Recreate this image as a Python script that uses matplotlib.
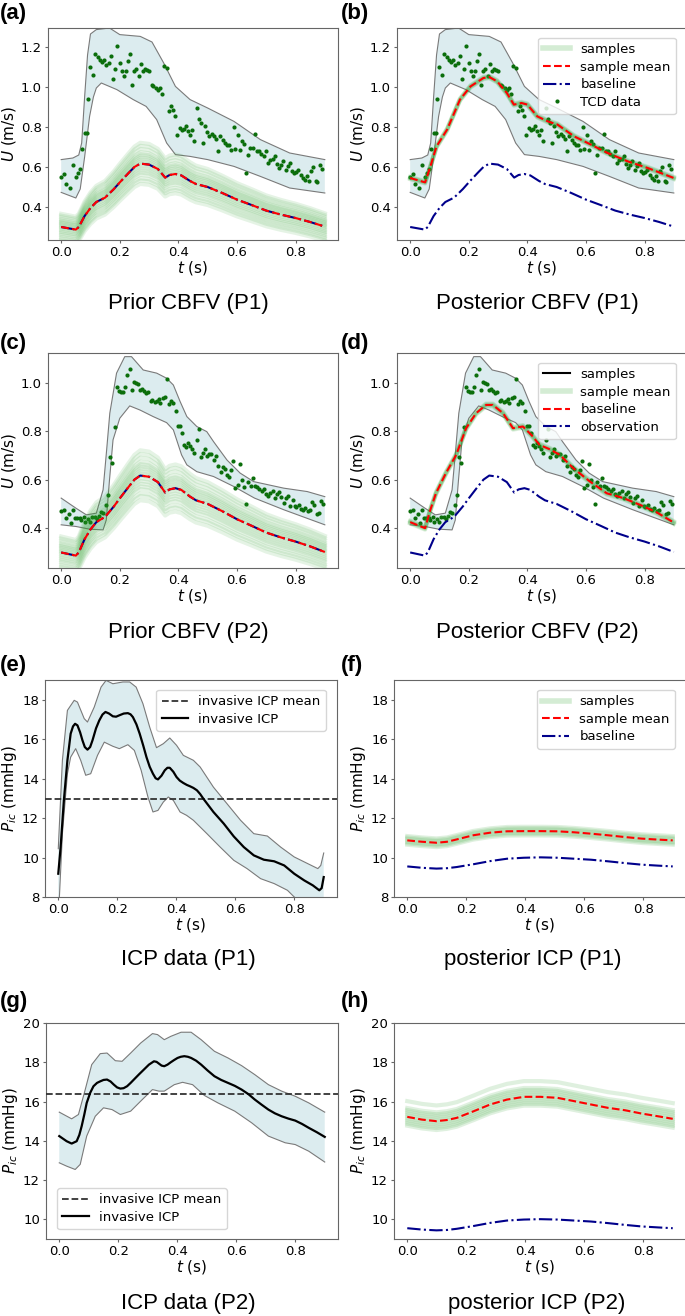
import numpy as np
import matplotlib
matplotlib.use("Agg")
import matplotlib.pyplot as plt
from matplotlib.lines import Line2D

# ── Data ─────────────────────────────────────────────────────────────────────

# baseline / prior-mean CBFV curve (m/s)
base_t = [0.0, 0.05, 0.06, 0.08, 0.10, 0.12, 0.15, 0.18, 0.20, 0.23, 0.25, 0.27, 0.30,
          0.33, 0.355, 0.37, 0.39, 0.41, 0.44, 0.46, 0.50, 0.55, 0.60, 0.65, 0.70,
          0.75, 0.80, 0.85, 0.90]
base_u = [0.300, 0.287, 0.300, 0.355, 0.395, 0.425, 0.447, 0.490, 0.523, 0.570, 0.600,
          0.617, 0.612, 0.590, 0.547, 0.560, 0.565, 0.558, 0.530, 0.515, 0.500, 0.470,
          0.437, 0.410, 0.382, 0.362, 0.345, 0.325, 0.302]

# prior samples: per-sample scale and shift of the prior mean
prior_scale = [0.90, 0.92, 0.93, 0.95, 0.96, 0.97, 0.98, 0.99, 1.00, 1.01, 1.02, 1.03,
               1.04, 1.05, 1.06, 1.08, 1.10, 1.12]
prior_shift = [-0.040, -0.035, -0.030, -0.025, -0.020, -0.015, -0.010, -0.005, 0.0,
               0.003, 0.006, 0.010, 0.013, 0.016, 0.020, 0.024, 0.027, 0.030]
post_cbfv_offsets = [-0.006, -0.003, 0.0, 0.003, 0.006]

# P1 TCD band
p1_up_t = [0.0, 0.04, 0.06, 0.07, 0.08, 0.09, 0.10, 0.12, 0.165, 0.20, 0.27, 0.31, 0.35,
           0.39, 0.44, 0.50, 0.59, 0.68, 0.78, 0.90]
p1_up_u = [0.637, 0.645, 0.660, 0.720, 0.950, 1.160, 1.265, 1.287, 1.295, 1.262, 1.253,
           1.225, 1.120, 1.003, 0.937, 0.895, 0.828, 0.737, 0.670, 0.637]
p1_lo_t = [0.0, 0.05, 0.065, 0.08, 0.097, 0.11, 0.12, 0.137, 0.19, 0.246, 0.29, 0.326,
           0.36, 0.39, 0.44, 0.50, 0.59, 0.68, 0.78, 0.90]
p1_lo_u = [0.473, 0.445, 0.490, 0.650, 0.853, 0.950, 0.995, 1.020, 0.987, 0.937, 0.903,
           0.837, 0.720, 0.662, 0.653, 0.637, 0.603, 0.553, 0.495, 0.470]

# P2 TCD band
p2_up_t = [0.0, 0.051, 0.086, 0.12, 0.143, 0.155, 0.166, 0.189, 0.217, 0.24, 0.28, 0.326,
           0.36, 0.383, 0.406, 0.429, 0.463, 0.497, 0.52, 0.566, 0.611, 0.657, 0.76, 0.84,
           0.90]
p2_up_u = [0.524, 0.482, 0.455, 0.462, 0.558, 0.720, 0.874, 1.039, 1.107, 1.107, 1.052,
           1.039, 1.018, 0.990, 0.922, 0.860, 0.819, 0.798, 0.757, 0.681, 0.627, 0.592,
           0.565, 0.551, 0.530]
p2_lo_t = [0.0, 0.051, 0.097, 0.143, 0.154, 0.165, 0.177, 0.20, 0.234, 0.269, 0.314,
           0.36, 0.383, 0.411, 0.429, 0.463, 0.52, 0.589, 0.66, 0.76, 0.90]
p2_lo_u = [0.414, 0.407, 0.396, 0.393, 0.434, 0.600, 0.764, 0.853, 0.904, 0.887, 0.860,
           0.835, 0.805, 0.702, 0.661, 0.633, 0.613, 0.572, 0.524, 0.476, 0.414]

# posterior CBFV means
post1_t = [0.0, 0.051, 0.069, 0.09, 0.126, 0.17, 0.206, 0.25, 0.27, 0.297, 0.33, 0.354,
           0.38, 0.40, 0.434, 0.47, 0.503, 0.56, 0.617, 0.674, 0.743, 0.811, 0.90]
post1_u = [0.545, 0.523, 0.603, 0.703, 0.787, 0.937, 1.003, 1.045, 1.050, 1.028, 0.970,
           0.912, 0.920, 0.912, 0.853, 0.828, 0.812, 0.753, 0.712, 0.670, 0.628, 0.595,
           0.545]
post2_t = [0.0, 0.051, 0.067, 0.088, 0.122, 0.157, 0.191, 0.225, 0.259, 0.282, 0.317,
           0.351, 0.368, 0.385, 0.414, 0.442, 0.477, 0.511, 0.557, 0.614, 0.671, 0.728,
           0.785, 0.842, 0.90]
post2_u = [0.425, 0.400, 0.469, 0.544, 0.627, 0.702, 0.812, 0.874, 0.908, 0.908, 0.874,
           0.812, 0.816, 0.819, 0.784, 0.743, 0.725, 0.702, 0.647, 0.592, 0.544, 0.524,
           0.496, 0.465, 0.423]

# TCD measurements
tcd1_t = [0.0, 0.008, 0.017, 0.031, 0.04, 0.049, 0.057, 0.063, 0.071, 0.08, 0.088, 0.093,
          0.099, 0.109, 0.117, 0.126, 0.131, 0.139, 0.146, 0.154, 0.162, 0.169, 0.177,
          0.185, 0.191, 0.2, 0.208, 0.215, 0.221, 0.227, 0.234, 0.241, 0.249, 0.257,
          0.264, 0.272, 0.28, 0.287, 0.294, 0.3, 0.309, 0.315, 0.322, 0.329, 0.337,
          0.345, 0.352, 0.36, 0.368, 0.375, 0.382, 0.389, 0.397, 0.405, 0.411, 0.418,
          0.426, 0.432, 0.44, 0.447, 0.455, 0.463, 0.471, 0.478, 0.483, 0.491, 0.498,
          0.506, 0.514, 0.521, 0.529, 0.535, 0.543, 0.551, 0.558, 0.566, 0.573, 0.581,
          0.589, 0.595, 0.602, 0.609, 0.617, 0.624, 0.632, 0.639, 0.646, 0.654, 0.661,
          0.669, 0.675, 0.683, 0.691, 0.699, 0.706, 0.714, 0.722, 0.729, 0.737, 0.744,
          0.751, 0.758, 0.766, 0.774, 0.781, 0.789, 0.794, 0.802, 0.81, 0.817, 0.825,
          0.832, 0.84, 0.847, 0.854, 0.861, 0.869, 0.875, 0.883, 0.891]
tcd1_u = [0.548, 0.567, 0.515, 0.495, 0.608, 0.55, 0.57, 0.59, 0.692, 0.77, 0.77, 0.94,
          1.10, 1.062, 1.165, 1.15, 1.133, 1.123, 1.133, 1.108, 1.12, 1.153, 1.042, 1.09,
          1.203, 1.12, 1.082, 1.057, 1.078, 1.128, 1.165, 1.012, 1.078, 1.092, 1.053,
          1.115, 1.078, 1.092, 1.087, 1.082, 1.012, 1.007, 0.995, 0.987, 0.995, 0.967,
          1.103, 1.095, 0.878, 0.903, 0.887, 0.857, 0.762, 0.795, 0.787, 0.79, 0.803,
          0.782, 0.762, 0.787, 0.728, 0.895, 0.84, 0.82, 0.72, 0.803, 0.773, 0.753,
          0.765, 0.757, 0.74, 0.682, 0.753, 0.737, 0.72, 0.712, 0.712, 0.687, 0.80,
          0.69, 0.762, 0.683, 0.728, 0.717, 0.57, 0.658, 0.695, 0.695, 0.765, 0.678,
          0.682, 0.667, 0.653, 0.682, 0.62, 0.633, 0.64, 0.653, 0.617, 0.595, 0.612,
          0.628, 0.587, 0.603, 0.62, 0.578, 0.57, 0.573, 0.587, 0.562, 0.545, 0.537,
          0.553, 0.528, 0.578, 0.598, 0.528, 0.523, 0.608, 0.59]
tcd2_t = [0.0, 0.008, 0.017, 0.025, 0.032, 0.04, 0.048, 0.055, 0.063, 0.069, 0.077,
          0.083, 0.091, 0.099, 0.106, 0.114, 0.122, 0.129, 0.137, 0.144, 0.152, 0.16,
          0.167, 0.175, 0.183, 0.191, 0.198, 0.205, 0.211, 0.218, 0.225, 0.234, 0.242,
          0.249, 0.256, 0.263, 0.27, 0.277, 0.283, 0.291, 0.298, 0.305, 0.311, 0.319,
          0.326, 0.333, 0.339, 0.346, 0.354, 0.362, 0.369, 0.376, 0.383, 0.391, 0.398,
          0.406, 0.413, 0.42, 0.426, 0.433, 0.44, 0.447, 0.455, 0.463, 0.47, 0.477,
          0.483, 0.491, 0.498, 0.506, 0.513, 0.521, 0.529, 0.536, 0.544, 0.551, 0.558,
          0.566, 0.573, 0.579, 0.587, 0.595, 0.602, 0.609, 0.616, 0.624, 0.631, 0.639,
          0.647, 0.655, 0.662, 0.669, 0.677, 0.685, 0.691, 0.699, 0.706, 0.714, 0.722,
          0.729, 0.737, 0.745, 0.752, 0.76, 0.767, 0.775, 0.782, 0.79, 0.797, 0.803,
          0.811, 0.818, 0.826, 0.833, 0.841, 0.849, 0.857, 0.864, 0.872, 0.88, 0.888,
          0.895]
tcd2_u = [0.471, 0.476, 0.441, 0.459, 0.423, 0.476, 0.441, 0.444, 0.441, 0.434, 0.448,
          0.427, 0.437, 0.427, 0.448, 0.445, 0.437, 0.451, 0.465, 0.462, 0.496, 0.537,
          0.695, 0.668, 0.815, 0.983, 0.966, 0.963, 0.963, 0.983, 1.03, 1.056, 0.97,
          1.001, 1.0, 0.995, 0.97, 0.973, 0.967, 0.959, 0.963, 0.926, 0.929, 0.922,
          0.926, 0.931, 0.918, 0.938, 0.942, 1.014, 0.912, 0.926, 0.918, 0.883, 0.822,
          0.822, 0.794, 0.743, 0.736, 0.75, 0.739, 0.725, 0.709, 0.764, 0.808, 0.695,
          0.709, 0.725, 0.698, 0.706, 0.706, 0.681, 0.698, 0.657, 0.633, 0.654, 0.643,
          0.62, 0.613, 0.64, 0.675, 0.565, 0.578, 0.665, 0.599, 0.569, 0.499, 0.592,
          0.574, 0.606, 0.572, 0.569, 0.561, 0.554, 0.561, 0.54, 0.533, 0.544, 0.554,
          0.526, 0.541, 0.551, 0.53, 0.503, 0.524, 0.533, 0.493, 0.517, 0.493, 0.489,
          0.496, 0.478, 0.476, 0.482, 0.469, 0.473, 0.506, 0.496, 0.459, 0.462, 0.514,
          0.5]

# invasive ICP P1 (mmHg)
icp1_t = [0.0, 0.008, 0.019, 0.031, 0.042, 0.05, 0.057, 0.065, 0.074, 0.082, 0.09, 0.099,
          0.108, 0.116, 0.128, 0.139, 0.15, 0.16, 0.172, 0.185, 0.196, 0.207, 0.222,
          0.236, 0.245, 0.253, 0.265, 0.276, 0.288, 0.299, 0.31, 0.321, 0.33, 0.338,
          0.35, 0.361, 0.37, 0.378, 0.39, 0.401, 0.412, 0.424, 0.436, 0.447, 0.458,
          0.47, 0.481, 0.492, 0.526, 0.561, 0.595, 0.629, 0.663, 0.697, 0.732, 0.766,
          0.80, 0.834, 0.863, 0.885, 0.893, 0.90]
icp1_p = [9.18, 10.53, 12.9, 14.93, 16.28, 16.65, 16.78, 16.7, 16.35, 15.94, 15.6,
          15.47, 15.6, 15.94, 16.55, 16.95, 17.25, 17.38, 17.3, 17.16, 17.14, 17.21,
          17.3, 17.32, 17.26, 17.12, 16.75, 16.28, 15.68, 15.09, 14.6, 14.25, 14.02,
          13.96, 14.15, 14.42, 14.55, 14.55, 14.35, 14.08, 13.9, 13.78, 13.68, 13.61,
          13.53, 13.41, 13.22, 12.98, 12.31, 11.72, 11.07, 10.53, 10.11, 9.89, 9.81,
          9.6, 9.18, 8.84, 8.59, 8.34, 8.45, 9.01]
icp1_up_t = [0.0, 0.014, 0.031, 0.054, 0.065, 0.088, 0.099, 0.122, 0.145, 0.162, 0.185,
             0.219, 0.242, 0.264, 0.287, 0.31, 0.333, 0.356, 0.378, 0.401, 0.424, 0.458,
             0.481, 0.526, 0.572, 0.618, 0.663, 0.709, 0.754, 0.80, 0.846, 0.88, 0.89,
             0.90]
icp1_up_p = [10.45, 14.93, 17.46, 17.97, 17.88, 17.04, 16.87, 17.63, 18.64, 18.98,
             18.81, 18.9, 18.9, 18.64, 17.8, 16.61, 15.57, 15.77, 16.06, 15.69, 15.18,
             14.93, 14.59, 13.57, 12.73, 11.89, 11.21, 11.09, 10.53, 10.03, 9.69, 9.44,
             9.6, 10.23]
icp1_lo_t = [0.0, 0.014, 0.031, 0.042, 0.059, 0.076, 0.093, 0.11, 0.133, 0.156, 0.185,
             0.207, 0.236, 0.258, 0.281, 0.304, 0.321, 0.338, 0.356, 0.373, 0.39, 0.413,
             0.435, 0.458, 0.504, 0.549, 0.595, 0.64, 0.686, 0.732, 0.777, 0.80, 0.85,
             0.90]
icp1_lo_p = [6.8, 11.21, 14.25, 15.09, 15.52, 14.93, 14.17, 14.25, 15.18, 15.85, 15.64,
             15.52, 15.72, 15.43, 14.42, 13.07, 12.31, 12.39, 12.81, 13.07, 12.9, 12.31,
             12.14, 11.89, 11.21, 10.53, 9.86, 9.44, 8.93, 8.68, 8.34, 8.0, 7.5, 7.2]
icp1_mean = 12.97

# invasive ICP P2
icp2_t = [0.0, 0.025, 0.042, 0.059, 0.068, 0.076, 0.085, 0.093, 0.105, 0.116, 0.128,
          0.139, 0.15, 0.162, 0.174, 0.185, 0.196, 0.207, 0.218, 0.23, 0.242, 0.253,
          0.27, 0.287, 0.304, 0.321, 0.33, 0.338, 0.347, 0.356, 0.367, 0.378, 0.39,
          0.401, 0.412, 0.424, 0.436, 0.447, 0.464, 0.481, 0.503, 0.526, 0.549, 0.572,
          0.595, 0.618, 0.641, 0.663, 0.686, 0.709, 0.731, 0.754, 0.777, 0.80, 0.823,
          0.846, 0.873, 0.90]
icp2_p = [14.24, 13.98, 13.86, 13.98, 14.3, 14.75, 15.35, 15.93, 16.45, 16.78, 16.95,
          17.03, 17.1, 17.12, 17.02, 16.86, 16.72, 16.66, 16.68, 16.78, 16.95, 17.12,
          17.38, 17.63, 17.88, 18.05, 18.02, 17.93, 17.83, 17.8, 17.88, 18.0, 18.12,
          18.22, 18.28, 18.31, 18.28, 18.22, 18.08, 17.88, 17.58, 17.29, 17.1, 16.95,
          16.8, 16.61, 16.38, 16.1, 15.84, 15.59, 15.4, 15.25, 15.13, 15.03, 14.86,
          14.66, 14.44, 14.2]
icp2_up_t = [0.0, 0.042, 0.065, 0.088, 0.11, 0.139, 0.162, 0.19, 0.213, 0.242, 0.276,
             0.316, 0.333, 0.356, 0.378, 0.413, 0.447, 0.481, 0.526, 0.572, 0.618, 0.663,
             0.709, 0.754, 0.80, 0.846, 0.90]
icp2_up_p = [15.46, 15.12, 15.34, 16.61, 17.88, 18.44, 18.47, 18.08, 18.05, 18.47, 18.98,
             19.46, 19.41, 19.15, 19.32, 19.53, 19.53, 19.15, 18.56, 18.22, 17.83, 17.37,
             16.86, 16.53, 16.27, 15.93, 15.46]
icp2_lo_t = [0.0, 0.025, 0.054, 0.071, 0.093, 0.122, 0.15, 0.179, 0.207, 0.242, 0.276,
             0.316, 0.338, 0.356, 0.39, 0.418, 0.452, 0.492, 0.538, 0.595, 0.652, 0.709,
             0.766, 0.80, 0.846, 0.90]
icp2_lo_p = [12.88, 12.71, 12.54, 12.8, 14.24, 15.25, 15.68, 15.59, 15.34, 15.51, 16.02,
             16.61, 16.53, 16.53, 16.86, 16.98, 16.86, 16.31, 15.93, 15.51, 14.92, 14.24,
             13.9, 13.81, 13.47, 12.92]
icp2_mean = 16.39

# posterior ICP
picp_t = [0.0, 0.05, 0.099, 0.135, 0.168, 0.224, 0.281, 0.338, 0.395, 0.452, 0.509,
          0.566, 0.623, 0.68, 0.737, 0.794, 0.85, 0.90]
picp1_mean = [10.87, 10.8, 10.75, 10.8, 10.92, 11.13, 11.26, 11.33, 11.34, 11.34, 11.33,
              11.28, 11.21, 11.13, 11.04, 10.96, 10.91, 10.87]
picp_base = [9.55, 9.48, 9.44, 9.46, 9.52, 9.66, 9.82, 9.94, 9.99, 10.01, 9.99, 9.94,
             9.89, 9.81, 9.72, 9.64, 9.59, 9.55]
picp2_mean = [15.22, 15.08, 15.0, 15.06, 15.17, 15.5, 15.85, 16.1, 16.24, 16.24, 16.19,
              16.02, 15.85, 15.68, 15.56, 15.39, 15.25, 15.12]
picp1_offsets = [-0.22, -0.15, -0.08, 0.0, 0.08, 0.15, 0.22]
picp2_offsets = [-0.45, -0.35, -0.25, -0.15, -0.05, 0.05, 0.15, 0.25, 0.35, 0.45, 0.8]

# ── Styles ───────────────────────────────────────────────────────────────────

W, H = 685, 1316
BAND_FACE = "#dcecef"
BAND_EDGE = "#7a7a7a"
SAMPLE_C = "#2ca02c"
BASE_C = "#00008b"
DOT_C = "#0b6e0b"
SPINE_C = "#666666"
TITLE_FONT = ["Liberation Sans", "DejaVu Sans"]

plt.rcParams["font.family"] = ["DejaVu Sans"]
plt.rcParams["xtick.labelsize"] = 9.5
plt.rcParams["ytick.labelsize"] = 9.5
plt.rcParams["axes.labelsize"] = 11

fig = plt.figure(figsize=(W / 100, H / 100), dpi=100)


def px_axes(left, top, right, bottom):
    return fig.add_axes([left / W, 1 - bottom / H, (right - left) / W, (bottom - top) / H])


def style_axes(ax, ylim, yticks, ylabel):
    ax.set_xlim(-0.045, 0.945)
    ax.set_ylim(*ylim)
    ax.set_xticks([0.0, 0.2, 0.4, 0.6, 0.8])
    ax.set_yticks(yticks)
    ax.set_xlabel("$t$ (s)", labelpad=0)
    ax.set_ylabel(ylabel, labelpad=2)
    for s in ax.spines.values():
        s.set_color(SPINE_C)
    ax.tick_params(axis="both", color=SPINE_C, length=2.5, pad=1.8)


def band(ax, ut, uv, lt, lv):
    xs = list(ut) + list(reversed(lt))
    ys = list(uv) + list(reversed(lv))
    ax.fill(xs, ys, facecolor=BAND_FACE, edgecolor="none", zorder=1)
    ax.plot(ut, uv, color=BAND_EDGE, lw=0.8, zorder=2)
    ax.plot(lt, lv, color=BAND_EDGE, lw=0.8, zorder=2)


def label(x, y, s):
    fig.text(x / W, 1 - y / H, s, fontsize=16, fontweight="bold", family=TITLE_FONT,
             ha="left", va="center")


def title(x, y, s):
    fig.text(x / W, 1 - y / H, s, fontsize=16, family=TITLE_FONT, ha="center", va="center")


bt = np.array(base_t)
bu = np.array(base_u)

samples_h = Line2D([], [], color=SAMPLE_C, alpha=0.2, lw=4)
mean_h = Line2D([], [], color="red", ls="--", lw=1.5)
base_h = Line2D([], [], color=BASE_C, ls="-.", lw=1.5)
leg_kw = dict(fontsize=9.5, borderpad=0.4, labelspacing=0.35, handlelength=2.0)

# ── CBFV panels ──────────────────────────────────────────────────────────────

cbfv = [
    ("a", (48, 28, 338, 240), (0.235, 1.295), [0.4, 0.6, 0.8, 1.0, 1.2],
     (p1_up_t, p1_up_u, p1_lo_t, p1_lo_u), tcd1_t, tcd1_u, None, None),
    ("b", (397, 28, 687, 240), (0.235, 1.295), [0.4, 0.6, 0.8, 1.0, 1.2],
     (p1_up_t, p1_up_u, p1_lo_t, p1_lo_u), tcd1_t, tcd1_u, post1_t, post1_u),
    ("c", (48, 353, 338, 568), (0.236, 1.122), [0.4, 0.6, 0.8, 1.0],
     (p2_up_t, p2_up_u, p2_lo_t, p2_lo_u), tcd2_t, tcd2_u, None, None),
    ("d", (397, 353, 687, 568), (0.236, 1.122), [0.4, 0.6, 0.8, 1.0],
     (p2_up_t, p2_up_u, p2_lo_t, p2_lo_u), tcd2_t, tcd2_u, post2_t, post2_u),
]

for name, box, ylim, yticks, bnd, dt, du, pt, pu in cbfv:
    ax = px_axes(*box)
    band(ax, *bnd)
    ax.plot(dt, du, "o", color=DOT_C, ms=3, mec="none", zorder=3)
    if pt is None:
        for s, c in zip(prior_scale, prior_shift):
            ax.plot(bt, bu * s + c, color=SAMPLE_C, alpha=0.12, lw=3, zorder=4)
        ax.plot(bt, bu, color=BASE_C, ls="-.", lw=1.5, zorder=5)
        ax.plot(bt, bu, color="red", ls="--", lw=1.5, zorder=6)
    else:
        pu_arr = np.array(pu)
        for o in post_cbfv_offsets:
            ax.plot(pt, pu_arr + o, color=SAMPLE_C, alpha=0.15, lw=3, zorder=4)
        ax.plot(pt, pu, color="red", ls="--", lw=1.5, zorder=6)
        ax.plot(bt, bu, color=BASE_C, ls="-.", lw=1.5, zorder=5)
    style_axes(ax, ylim, yticks, "$U$ (m/s)")
    if name == "b":
        dot_h = Line2D([], [], color=DOT_C, marker="o", ls="none", ms=3, mec="none")
        ax.legend([samples_h, mean_h, base_h, dot_h],
                  ["samples", "sample mean", "baseline", "TCD data"],
                  loc="upper right", bbox_to_anchor=(0.985, 0.985), **leg_kw)
    if name == "d":
        blk_h = Line2D([], [], color="black", lw=1.5)
        ax.legend([blk_h, samples_h, mean_h, base_h],
                  ["samples", "sample mean", "baseline", "observation"],
                  loc="upper right", bbox_to_anchor=(0.985, 0.985), **leg_kw)

# ── ICP data panels ──────────────────────────────────────────────────────────

icp_mean_h = Line2D([], [], color="#333333", ls="--", lw=1.3)
icp_h = Line2D([], [], color="black", lw=1.6)

ax = px_axes(45, 680, 337, 897)
band(ax, icp1_up_t, icp1_up_p, icp1_lo_t, icp1_lo_p)
ax.axhline(icp1_mean, color="#333333", ls="--", lw=1.3, zorder=3)
ax.plot(icp1_t, icp1_p, color="black", lw=1.6, zorder=4)
style_axes(ax, (8, 19), [8, 10, 12, 14, 16, 18], "$P_{ic}$ (mmHg)")
ax.legend([icp_mean_h, icp_h], ["invasive ICP mean", "invasive ICP"],
          loc="upper right", bbox_to_anchor=(0.985, 0.985), **leg_kw)

ax = px_axes(46, 1023, 338, 1239)
band(ax, icp2_up_t, icp2_up_p, icp2_lo_t, icp2_lo_p)
ax.axhline(icp2_mean, color="#333333", ls="--", lw=1.3, zorder=3)
ax.plot(icp2_t, icp2_p, color="black", lw=1.6, zorder=4)
style_axes(ax, (9, 20), [10, 12, 14, 16, 18, 20], "$P_{ic}$ (mmHg)")
ax.legend([icp_mean_h, icp_h], ["invasive ICP mean", "invasive ICP"],
          loc="lower left", bbox_to_anchor=(0.015, 0.015), **leg_kw)

# ── Posterior ICP panels ─────────────────────────────────────────────────────

for box, mean, offs, ylim, yticks, leg in [
        ((394, 680, 686, 897), picp1_mean, picp1_offsets, (8, 19),
         [8, 10, 12, 14, 16, 18], True),
        ((394, 1023, 686, 1239), picp2_mean, picp2_offsets, (9, 20),
         [10, 12, 14, 16, 18, 20], False)]:
    ax = px_axes(*box)
    m = np.array(mean)
    for o in offs:
        ax.plot(picp_t, m + o, color=SAMPLE_C, alpha=0.15, lw=3, zorder=2)
    ax.plot(picp_t, mean, color="red", ls="--", lw=1.5, zorder=4)
    ax.plot(picp_t, picp_base, color=BASE_C, ls="-.", lw=1.5, zorder=3)
    style_axes(ax, ylim, yticks, "$P_{ic}$ (mmHg)")
    if leg:
        ax.legend([samples_h, mean_h, base_h], ["samples", "sample mean", "baseline"],
                  loc="upper right", bbox_to_anchor=(0.985, 0.985), **leg_kw)

# ── Labels and titles ────────────────────────────────────────────────────────

for x, y, s in [(0, 13, "(a)"), (341, 13, "(b)"), (0, 343, "(c)"), (341, 343, "(d)"),
                (0, 665, "(e)"), (341, 665, "(f)"), (0, 1001, "(g)"), (341, 1001, "(h)")]:
    label(x, y, s)

for x, y, s in [(188, 303, "Prior CBFV (P1)"), (537, 303, "Posterior CBFV (P1)"),
                (188, 633, "Prior CBFV (P2)"), (537, 633, "Posterior CBFV (P2)"),
                (188, 960, "ICP data (P1)"), (533, 960, "posterior ICP (P1)"),
                (188, 1303, "ICP data (P2)"), (537, 1303, "posterior ICP (P2)")]:
    title(x, y, s)

fig.savefig("out.png", dpi=100)
